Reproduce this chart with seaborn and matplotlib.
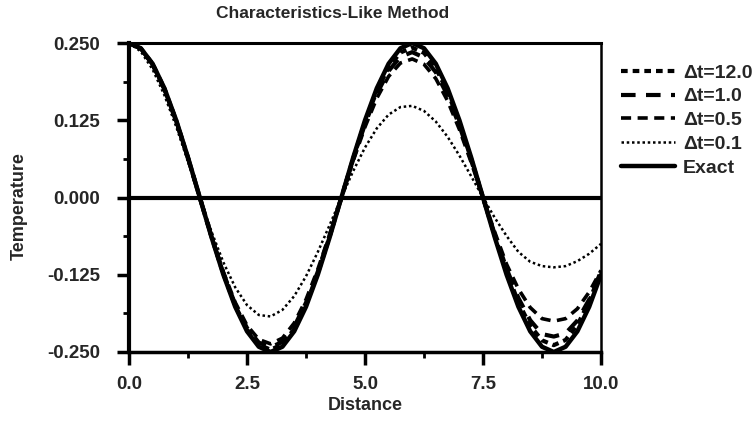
import matplotlib
matplotlib.use("Agg")
import matplotlib.pyplot as plt
import seaborn as sns
import pandas as pd
from matplotlib.ticker import FixedLocator

# ---- data ----
distance = [0.0, 0.25, 0.5, 0.75, 1.0, 1.25, 1.5, 1.75, 2.0, 2.25, 2.5, 2.75, 3.0,
            3.25, 3.5, 3.75, 4.0, 4.25, 4.5, 4.75, 5.0, 5.25, 5.5, 5.75, 6.0,
            6.25, 6.5, 6.75, 7.0, 7.25, 7.5, 7.75, 8.0, 8.25, 8.5, 8.75, 9.0,
            9.25, 9.5, 9.75, 10.0]

exact = [0.25, 0.2415, 0.2165, 0.1768, 0.125, 0.0647, 0.0, -0.0647, -0.125, -0.1768,
         -0.2165, -0.2415, -0.25, -0.2415, -0.2165, -0.1768, -0.125, -0.0647, 0.0,
         0.0647, 0.125, 0.1768, 0.2165, 0.2415, 0.25, 0.2415, 0.2165, 0.1768, 0.125,
         0.0647, 0.0, -0.0647, -0.125, -0.1768, -0.2165, -0.2415, -0.25, -0.2415,
         -0.2165, -0.1768, -0.125]

dt_12 = [0.25, 0.2412, 0.2160, 0.1761, 0.1244, 0.0643, 0.0, -0.0641, -0.1237, -0.1748,
         -0.2138, -0.2382, -0.2463, -0.2376, -0.2127, -0.1735, -0.1225, -0.0633, 0.0,
         0.0632, 0.1219, 0.1722, 0.2106, 0.2346, 0.2426, 0.2340, 0.2095, 0.1709, 0.1207,
         0.0624, 0.0, -0.0622, -0.1201, -0.1696, -0.2074, -0.2311, -0.2389, -0.2305,
         -0.2064, -0.1684, -0.1189]

dt_1 = [0.25, 0.2409, 0.2154, 0.1754, 0.1237, 0.0639, 0.0, -0.0636, -0.1225, -0.1728,
        -0.2111, -0.2348, -0.2425, -0.2336, -0.2089, -0.1702, -0.1200, -0.0620, 0.0,
        0.0617, 0.1188, 0.1676, 0.2047, 0.2278, 0.2352, 0.2266, 0.2027, 0.1651, 0.1164,
        0.0601, 0.0, -0.0598, -0.1153, -0.1626, -0.1986, -0.2210, -0.2250, -0.2198,
        -0.1990, -0.1650, -0.1220]

dt_05 = [0.25, 0.2404, 0.2145, 0.1744, 0.1228, 0.0632, 0.0, -0.0627, -0.1205, -0.1697,
         -0.2069, -0.2297, -0.2368, -0.2276, -0.2032, -0.1651, -0.1162, -0.0599, 0.0,
         0.0594, 0.1142, 0.1607, 0.1959, 0.2176, 0.2242, 0.2156, 0.1924, 0.1564, 0.1101,
         0.0567, 0.0, -0.0562, -0.1081, -0.1480, -0.1780, -0.1960, -0.2000, -0.1960,
         -0.1800, -0.1530, -0.1180]

dt_01 = [0.25, 0.2363, 0.2073, 0.1656, 0.1146, 0.0580, 0.0, -0.0556, -0.1050, -0.1453,
         -0.1741, -0.1901, -0.1925, -0.1819, -0.1596, -0.1275, -0.0882, -0.0447, 0.0,
         0.0428, 0.0809, 0.1119, 0.1341, 0.1463, 0.1483, 0.1401, 0.1229, 0.0982, 0.0679,
         0.0344, 0.0, -0.0329, -0.0623, -0.0880, -0.1040, -0.1110, -0.1130, -0.1110,
         -0.1030, -0.0910, -0.0750]

series_labels = ["\u0394t=12.0", "\u0394t=1.0", "\u0394t=0.5", "\u0394t=0.1", "Exact"]
xticks = [0.0, 2.5, 5.0, 7.5, 10.0]
xtick_labels = ["0.0", "2.5", "5.0", "7.5", "10.0"]
yticks = [-0.25, -0.125, 0.0, 0.125, 0.25]
ytick_labels = ["-0.250", "-0.125", "0.000", "0.125", "0.250"]

# ---- style ----
sns.set_style("ticks")
plt.rcParams["font.family"] = ["Liberation Sans", "DejaVu Sans"]
plt.rcParams["font.weight"] = "bold"

fig = plt.figure(figsize=(7.53, 4.32), dpi=100)
ax = fig.add_axes([129 / 753, 1 - 352 / 432, (601 - 129) / 753, (352 - 43) / 432])

series = [dt_12, dt_1, dt_05, dt_01, exact]
styles = [
    dict(linestyle=(0, (1.6, 1.2)), linewidth=3.0),
    dict(linestyle=(0, (3.5, 2.5)), linewidth=3.0),
    dict(linestyle=(0, (2.8, 1.8)), linewidth=2.6),
    dict(linestyle=(0, (1, 1.1)), linewidth=1.8),
    dict(linestyle="-", linewidth=3.2),
]

for vals, lab, st in zip(series, series_labels, styles):
    df = pd.DataFrame({"Distance": distance, "Temperature": vals})
    sns.lineplot(data=df, x="Distance", y="Temperature", ax=ax, color="black",
                 label=lab, **st)

ax.axhline(0.0, color="black", linewidth=3.0, zorder=1)

ax.set_xlim(0, 10)
ax.set_ylim(-0.25, 0.25)
ax.set_xticks(xticks)
ax.set_xticklabels(xtick_labels)
ax.set_yticks(yticks)
ax.set_yticklabels(ytick_labels)
ax.xaxis.set_minor_locator(FixedLocator([1.25, 3.75, 6.25, 8.75]))
ax.yaxis.set_minor_locator(FixedLocator([-0.1875, -0.0625, 0.0625, 0.1875]))
ax.tick_params(axis="both", which="major", direction="out", length=9, width=2.5,
               labelsize=13.5, color="black")
ax.tick_params(axis="x", which="major", pad=8)
ax.tick_params(axis="y", which="major", pad=12)
ax.tick_params(axis="both", which="minor", direction="out", length=4.5, width=2.0,
               color="black")
for lab in ax.get_xticklabels() + ax.get_yticklabels():
    lab.set_fontweight("bold")

for side, lw in [("left", 3.0), ("bottom", 2.5), ("top", 2.2), ("right", 1.8)]:
    ax.spines[side].set_visible(True)
    ax.spines[side].set_linewidth(lw)
    ax.spines[side].set_color("black")

ax.set_xlabel("Distance", fontsize=13, fontweight="bold")
ax.xaxis.set_label_coords(0.5, -(397 - 352) / 309)
ax.set_ylabel("Temperature", fontsize=13, fontweight="bold")
ax.yaxis.set_label_coords((28 - 129) / 472, (352 - 206) / 309)
fig.text(333 / 753, 1 - 14 / 432, "Characteristics-Like Method", fontsize=12.5,
         fontweight="bold", ha="center", va="center")

leg = ax.legend(loc="upper left", bbox_to_anchor=(621 / 753, 1 - 64 / 432),
                bbox_transform=fig.transFigure, frameon=False, fontsize=14,
                handlelength=2.8, handletextpad=0.4, labelspacing=0.32,
                borderaxespad=0, borderpad=0)
for t in leg.get_texts():
    t.set_fontweight("bold")

fig.savefig("out.png", dpi=100)
